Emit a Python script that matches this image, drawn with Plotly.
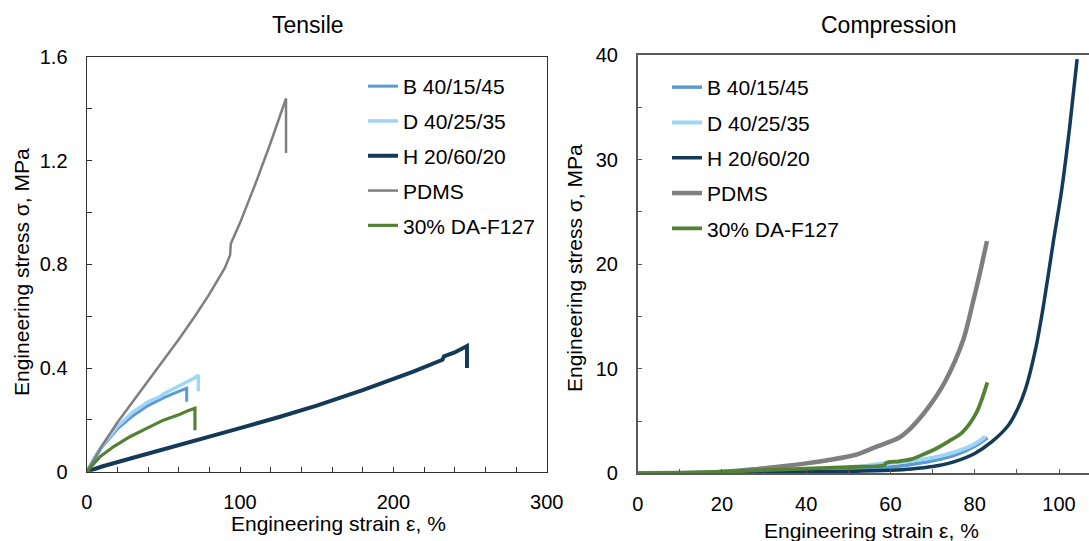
import plotly.graph_objects as go

# ---------------- data ----------------
names = ["B 40/15/45", "D 40/25/35", "H 20/60/20", "PDMS", "30% DA-F127"]
colors = ["#5B9BD5", "#9FD6F8", "#133A58", "#7F7F7F", "#548235"]

# Tensile (strain %, stress MPa)
ten_B_x = [0, 5, 10, 20, 30, 40, 50, 60, 65.2, 65.2]
ten_B_y = [0, 0.05, 0.095, 0.165, 0.215, 0.255, 0.285, 0.31, 0.322, 0.27]
ten_D_x = [0, 5, 10, 20, 30, 40, 48, 50, 55, 60, 65, 70, 72.8, 72.8]
ten_D_y = [0, 0.055, 0.10, 0.175, 0.23, 0.27, 0.29, 0.30, 0.315, 0.33, 0.345, 0.36, 0.373, 0.31]
ten_H_x = [0, 10, 25, 50, 75, 100, 125, 150, 180, 213, 232, 233, 240, 248, 248]
ten_H_y = [0, 0.02, 0.045, 0.085, 0.127, 0.168, 0.21, 0.255, 0.315, 0.386, 0.432, 0.445, 0.46, 0.485, 0.40]
ten_P_x = [0, 10, 20, 30, 40, 50, 60, 70, 80, 90, 93.5, 94, 100, 110, 120, 130, 130]
ten_P_y = [0, 0.10, 0.19, 0.27, 0.35, 0.43, 0.51, 0.595, 0.685, 0.785, 0.835, 0.88, 0.96, 1.11, 1.27, 1.44, 1.23]
ten_G_x = [0, 8.7, 17.4, 28.2, 39.1, 50, 60.9, 65, 66, 70.6, 70.6]
ten_G_y = [0, 0.058, 0.096, 0.135, 0.167, 0.199, 0.222, 0.23, 0.235, 0.245, 0.16]

# Compression (strain %, stress MPa)
com_B_x = [0, 20, 40, 50, 60, 65, 70, 75, 80, 83]
com_B_y = [0, 0.05, 0.2, 0.35, 0.6, 0.85, 1.2, 1.7, 2.6, 3.4]
com_D_x = [0, 20, 40, 50, 55, 58, 60, 65, 70, 75, 80, 82.5]
com_D_y = [0, 0.06, 0.25, 0.5, 0.75, 0.95, 1.0, 1.2, 1.5, 2.0, 2.8, 3.5]
com_H_x = [0, 10, 20, 30, 40, 50, 60, 65, 70, 75, 80, 84, 88, 90, 92, 94.5, 96.3, 98.6, 100.6, 102.5, 104.3]
com_H_y = [0, 0.02, 0.05, 0.09, 0.14, 0.2, 0.3, 0.42, 0.65, 1.1, 1.9, 3.0, 4.6, 6.0, 8.0, 12.0, 16.0, 22.0, 27.0, 33.0, 39.6]
com_P_x = [0, 10, 20, 28, 36, 40, 45, 52, 57, 62, 65, 69, 73, 77.3, 79.3, 81.2, 82.9]
com_P_y = [0, 0.03, 0.12, 0.4, 0.75, 0.95, 1.25, 1.8, 2.6, 3.4, 4.4, 6.3, 8.8, 12.8, 15.9, 19.1, 22.2]
com_G_x = [0, 10, 20, 30, 40, 50, 58.5, 59, 62, 65, 68, 71, 74, 77, 80.4, 83]
com_G_y = [0, 0.05, 0.15, 0.3, 0.45, 0.6, 0.78, 1.0, 1.15, 1.35, 1.85, 2.4, 3.1, 3.9, 5.8, 8.7]

ten_widths = [3, 3.5, 4, 2.5, 3.2]
com_widths = [3.5, 4, 3.5, 4.5, 3.8]

ten_sets = [(ten_B_x, ten_B_y), (ten_D_x, ten_D_y), (ten_H_x, ten_H_y), (ten_P_x, ten_P_y), (ten_G_x, ten_G_y)]
com_sets = [(com_B_x, com_B_y), (com_D_x, com_D_y), (com_H_x, com_H_y), (com_P_x, com_P_y), (com_G_x, com_G_y)]

FONT = "Liberation Sans, Arial, sans-serif"
W, H = 1089, 541

fig = go.Figure()
for i, (xs, ys) in enumerate(ten_sets):
    fig.add_trace(go.Scatter(x=xs, y=ys, mode="lines", name=names[i],
                             line=dict(color=colors[i], width=ten_widths[i]),
                             xaxis="x", yaxis="y", legend="legend",
                             legendgroup="t%d" % i))
for i, (xs, ys) in enumerate(com_sets):
    fig.add_trace(go.Scatter(x=xs, y=ys, mode="lines", name=names[i],
                             line=dict(color=colors[i], width=com_widths[i],
                                       shape="spline", smoothing=0.8),
                             xaxis="x2", yaxis="y2", legend="legend2",
                             legendgroup="c%d" % i))

def px_x(p):
    return p / W

def px_y(p):
    return 1 - p / H

tickfont = dict(family=FONT, size=20, color="#000000")
axcol_l = "#303030"
axcol_r = "#5a5a5a"

fig.update_layout(
    template="none",
    width=W, height=H,
    margin=dict(l=0, r=0, t=0, b=0, pad=0, autoexpand=False),
    paper_bgcolor="white", plot_bgcolor="white",
    font=dict(family=FONT, color="#000000"),
    xaxis=dict(domain=[px_x(86.7), px_x(546.7)], range=[0, 300], automargin=False,
               dtick=100, tick0=0, ticks="inside", ticklen=5, tickcolor=axcol_l,
               minor=dict(dtick=20, ticks="inside", ticklen=5, tickcolor=axcol_l),
               showline=True, linecolor=axcol_l, linewidth=1.3, mirror=True,
               showgrid=False, zeroline=False, tickfont=tickfont,
               ticklabelstandoff=12, anchor="y"),
    yaxis=dict(domain=[px_y(471.7), px_y(57)], range=[0, 1.6], automargin=False,
               dtick=0.4, tick0=0, ticks="inside", ticklen=5, tickcolor=axcol_l,
               minor=dict(dtick=0.2, ticks="inside", ticklen=5, tickcolor=axcol_l),
               showline=True, linecolor=axcol_l, linewidth=1.3, mirror=True,
               showgrid=False, zeroline=False, tickfont=tickfont,
               ticklabelstandoff=14, anchor="x"),
    xaxis2=dict(domain=[px_x(637.7), 1.0], range=[0, (W - 637.7) / 4.213], automargin=False,
                dtick=20, tick0=0, ticks="inside", ticklen=5, tickcolor=axcol_r,
                minor=dict(dtick=10, ticks="inside", ticklen=5, tickcolor=axcol_r),
                showline=True, linecolor=axcol_r, linewidth=1.5, mirror=True,
                showgrid=False, zeroline=False, tickfont=tickfont,
                ticklabelstandoff=12, anchor="y2"),
    yaxis2=dict(domain=[px_y(473.3), px_y(55)], range=[0, 40], automargin=False,
                dtick=10, tick0=0, ticks="inside", ticklen=5, tickcolor=axcol_r,
                minor=dict(dtick=5, ticks="inside", ticklen=5, tickcolor=axcol_r),
                showline=True, linecolor=axcol_r, linewidth=1.5, mirror=False,
                showgrid=False, zeroline=False, tickfont=tickfont,
                ticklabelstandoff=14, anchor="x2"),
    legend=dict(x=px_x(363), y=px_y(66), xanchor="left", yanchor="top",
                bgcolor="rgba(0,0,0,0)", borderwidth=0,
                font=dict(family=FONT, size=21, color="#000000"),
                traceorder="grouped", tracegroupgap=4.5),
    legend2=dict(x=px_x(667), y=px_y(67), xanchor="left", yanchor="top",
                 bgcolor="rgba(0,0,0,0)", borderwidth=0,
                 font=dict(family=FONT, size=21, color="#000000"),
                 traceorder="grouped", tracegroupgap=5),
    showlegend=True,
)

ann = []
ann.append(dict(text="Tensile", x=px_x(308), y=px_y(25), xref="paper", yref="paper",
                showarrow=False, xanchor="center", yanchor="middle",
                font=dict(family=FONT, size=23, color="#000000")))
ann.append(dict(text="Compression", x=px_x(889), y=px_y(25), xref="paper", yref="paper",
                showarrow=False, xanchor="center", yanchor="middle",
                font=dict(family=FONT, size=23, color="#000000")))
ann.append(dict(text="Engineering strain ε, %", x=px_x(338), y=px_y(523), xref="paper", yref="paper",
                showarrow=False, xanchor="center", yanchor="middle",
                font=dict(family=FONT, size=21, color="#000000")))
ann.append(dict(text="Engineering strain ε, %", x=px_x(871), y=px_y(530), xref="paper", yref="paper",
                showarrow=False, xanchor="center", yanchor="middle",
                font=dict(family=FONT, size=21, color="#000000")))
ann.append(dict(text="Engineering stress σ, MPa", x=px_x(21), y=px_y(272), xref="paper", yref="paper",
                showarrow=False, xanchor="center", yanchor="middle", textangle=-90,
                font=dict(family=FONT, size=21, color="#000000")))
ann.append(dict(text="Engineering stress σ, MPa", x=px_x(574), y=px_y(268), xref="paper", yref="paper",
                showarrow=False, xanchor="center", yanchor="middle", textangle=-90,
                font=dict(family=FONT, size=21, color="#000000")))
fig.update_layout(annotations=ann)

fig.write_html("out.html")
